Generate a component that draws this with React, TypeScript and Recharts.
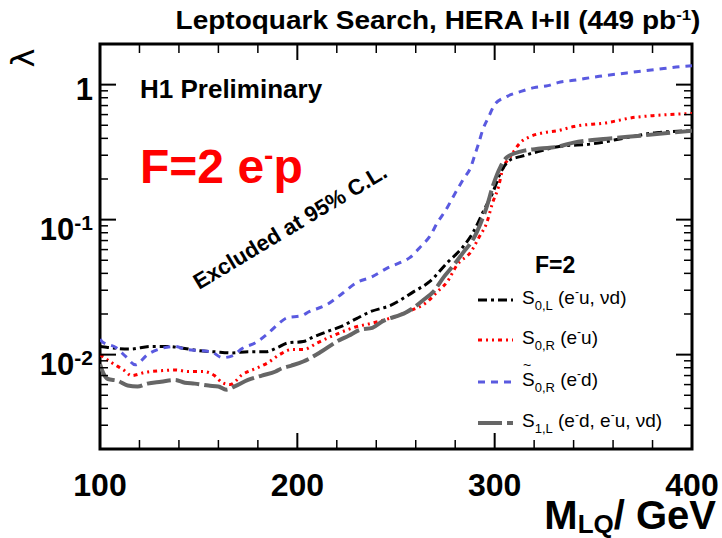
import React from 'react';
import { LineChart, Line, XAxis, YAxis, ReferenceArea } from 'recharts';

// S0,L (e-u, vd) — black dash-dot
const s0lMass = [100, 104, 115, 126, 134, 143, 150, 158, 167, 175, 184, 190, 195, 203, 208, 215, 222, 230, 237, 247, 259, 267, 276, 284, 289, 294, 299, 303, 308, 313, 322, 332, 350, 367, 382, 400];
const s0lLambda = [0.0115, 0.0113, 0.011, 0.0115, 0.0115, 0.0111, 0.0107, 0.0105, 0.0103, 0.0105, 0.0105, 0.0113, 0.0122, 0.0125, 0.0135, 0.0148, 0.0161, 0.0185, 0.0208, 0.0231, 0.0293, 0.0347, 0.048, 0.063, 0.08, 0.113, 0.158, 0.223, 0.278, 0.293, 0.319, 0.347, 0.365, 0.405, 0.441, 0.455];

// S0,R (e-u) — red dotted
const s0rMass = [100, 106, 112, 116, 123, 131, 138, 145, 152, 158, 162, 166, 172, 179, 185, 191, 197, 203, 210, 217, 230, 237, 256, 266, 271, 276, 281, 288, 292, 296, 299, 302, 304, 308, 313, 318, 325, 332, 340, 357, 370, 380, 400];
const s0rLambda = [0.01, 0.0087, 0.0077, 0.007, 0.0074, 0.0076, 0.0077, 0.0075, 0.0075, 0.007, 0.0062, 0.006, 0.0071, 0.0079, 0.0087, 0.01, 0.0109, 0.0109, 0.0122, 0.0136, 0.0161, 0.017, 0.0208, 0.0247, 0.0293, 0.0347, 0.0464, 0.0579, 0.0736, 0.095, 0.134, 0.176, 0.235, 0.293, 0.372, 0.412, 0.441, 0.456, 0.489, 0.523, 0.57, 0.589, 0.612];

// S~0,R (e-d) — blue dashed
const st0rMass = [100, 101, 108, 113, 118, 124, 131, 138, 144, 152, 157, 162, 167, 172, 179, 185, 190, 195, 202, 206, 215, 222, 230, 238, 246, 252, 257, 262, 267, 271, 276, 279, 284, 288, 290, 292, 294, 297, 300, 306, 313, 320, 327, 332, 340, 353, 367, 381, 396, 400];
const st0rLambda = [0.013, 0.0125, 0.0113, 0.0097, 0.0084, 0.01, 0.0111, 0.0115, 0.0109, 0.0107, 0.0104, 0.0095, 0.0098, 0.0111, 0.0123, 0.0143, 0.0167, 0.0188, 0.0194, 0.0208, 0.0235, 0.0278, 0.0341, 0.0378, 0.0441, 0.048, 0.0523, 0.062, 0.0748, 0.095, 0.123, 0.148, 0.198, 0.247, 0.303, 0.372, 0.464, 0.579, 0.711, 0.815, 0.887, 0.95, 0.983, 1.035, 1.076, 1.152, 1.221, 1.291, 1.367, 1.38];

// S1,L (e-d, e-u, vd) — grey long dash
const s1lMass = [100, 101, 104, 109, 114, 119, 124, 131, 138, 143, 148, 155, 160, 164, 168, 175, 182, 189, 192, 197, 203, 212, 220, 226, 232, 238, 243, 255, 259, 264, 269, 274, 279, 284, 289, 293, 296, 299, 303, 306, 313, 323, 332, 340, 357, 374, 390, 400];
const s1lLambda = [0.0085, 0.0077, 0.0066, 0.0064, 0.0059, 0.0058, 0.0061, 0.0063, 0.0065, 0.0062, 0.0061, 0.0059, 0.0058, 0.0055, 0.0058, 0.0065, 0.007, 0.0075, 0.0079, 0.0083, 0.0089, 0.0105, 0.0125, 0.0138, 0.0153, 0.0158, 0.0176, 0.0205, 0.0223, 0.0255, 0.0293, 0.0372, 0.0456, 0.057, 0.0711, 0.095, 0.125, 0.176, 0.247, 0.288, 0.319, 0.336, 0.347, 0.372, 0.398, 0.419, 0.441, 0.456];

const xTicks = [100, 120, 140, 160, 180, 200, 220, 240, 260, 280, 300, 320, 340, 360, 380, 400];
const xMajor = [100, 200, 300, 400];
const yTicks = [0.002, 0.003, 0.004, 0.005, 0.006, 0.007, 0.008, 0.009, 0.01, 0.02, 0.03, 0.04, 0.05, 0.06, 0.07, 0.08, 0.09, 0.1, 0.2, 0.3, 0.4, 0.5, 0.6, 0.7, 0.8, 0.9, 1, 2];
const yMajor = [0.01, 0.1, 1];
const yLabels: Record<string, [string, string]> = { '0.01': ['10', '-2'], '0.1': ['10', '-1'], '1': ['1', ''] };

const zip = (mass: number[], lambda: number[]) => mass.map((m, i) => ({ m, v: lambda[i] }));

const PLOT = { left: 100, right: 692, top: 44, bottom: 449 };
const FONT = '"Liberation Sans", Arial, Helvetica, sans-serif';

const BLACK_DASH = '9 4 3 4';
const RED_DASH = '4 4 2 4 2 4';
const BLUE_DASH = '7 6';
const GREY_DASH = '24 5';

const YTick = ({ y, payload }: any) => {
  const v = payload.value;
  const major = yMajor.includes(v);
  const len = major ? 16 : 8;
  const lab = yLabels[String(v)];
  return (
    <g>
      <line x1={PLOT.left} x2={PLOT.left + len} y1={y} y2={y} stroke="#000" strokeWidth={major ? 2 : 1.5} />
      <line x1={PLOT.right} x2={PLOT.right - len} y1={y} y2={y} stroke="#000" strokeWidth={major ? 2 : 1.5} />
      {lab && (
        <text x={93} y={y + (lab[1] ? 20 : 15)} textAnchor="end" fontSize={31} fontWeight="bold" fontFamily={FONT} fill="#000">
          {lab[0]}
          {lab[1] && <tspan dy={-10} fontSize={21}>{lab[1]}</tspan>}
        </text>
      )}
    </g>
  );
};

const XTick = ({ x, payload }: any) => {
  const v = payload.value;
  const major = xMajor.includes(v);
  const len = major ? 16 : 9;
  return (
    <g>
      <line x1={x} x2={x} y1={PLOT.bottom} y2={PLOT.bottom - len} stroke="#000" strokeWidth={major ? 2 : 1.5} />
      <line x1={x} x2={x} y1={PLOT.top} y2={PLOT.top + len} stroke="#000" strokeWidth={major ? 2 : 1.5} />
      {major && (
        <text x={x} y={496} textAnchor="middle" fontSize={32} fontWeight="bold" fontFamily={FONT} fill="#000">
          {v}
        </text>
      )}
    </g>
  );
};

const legendRows = [
  { y: 300, stroke: '#000', dash: BLACK_DASH, width: 3, sub: '0,L', text: ['(e', 'u, νd)'], tilde: false },
  { y: 340, stroke: '#ff0000', dash: RED_DASH, width: 3, sub: '0,R', text: ['(e', 'u)'], tilde: false },
  { y: 382, stroke: '#5a5ae0', dash: BLUE_DASH, width: 3, sub: '0,R', text: ['(e', 'd)'], tilde: true },
  { y: 423, stroke: '#666666', dash: GREY_DASH, width: 4, sub: '1,L', text: ['(e', 'd, e', 'u, νd)'], tilde: false },
];

const Overlay = () => (
  <svg width={722} height={538} style={{ position: 'absolute', left: 0, top: 0, pointerEvents: 'none' }}>
    <text transform="translate(438,29) scale(1.12,1)" textAnchor="middle" fontSize={25} fontWeight="bold" fontFamily={FONT}>
      Leptoquark Search, HERA I+II (449 pb<tspan dy={-9} fontSize={15}>-1</tspan>
      <tspan dy={9}>)</tspan>
    </text>
    <text transform="translate(34,58) rotate(-90)" textAnchor="middle" fontSize={32} fontFamily='"DejaVu Sans", sans-serif'>
      λ
    </text>
    <text x={140} y={98} fontSize={26} fontWeight="bold" fontFamily={FONT}>H1 Preliminary</text>
    <text x={140} y={183} fontSize={48} fontWeight="bold" fontFamily={FONT} fill="#ff0000">
      F=2 e<tspan dy={-18} fontSize={28}>-</tspan>
      <tspan dy={18}>p</tspan>
    </text>
    <text transform="translate(199,290) rotate(-31)" fontSize={22} fontWeight="bold" fontFamily={FONT}>
      Excluded at 95% C.L.
    </text>
    <text x={535} y={273} fontSize={23} fontWeight="bold" fontFamily={FONT}>F=2</text>
    {legendRows.map((r) => (
      <g key={r.y}>
        <line x1={478} x2={513} y1={r.y} y2={r.y} stroke={r.stroke} strokeWidth={r.width} strokeDasharray={r.dash} />
        {r.tilde && (
          <text x={523} y={r.y - 12} fontSize={14} fontFamily={FONT}>~</text>
        )}
        <text x={522} y={r.y + 4} fontSize={19} fontFamily={FONT} xmlSpace="preserve">
          S<tspan dy={6} fontSize={13}>{r.sub}</tspan>
          <tspan dy={-6}>{' ' + r.text[0]}</tspan>
          {r.text.slice(1).map((t, i) => (
            <React.Fragment key={i}>
              <tspan dy={-8} fontSize={12}>-</tspan>
              <tspan dy={8}>{t}</tspan>
            </React.Fragment>
          ))}
        </text>
      </g>
    ))}
    <text x={716} y={529} textAnchor="end" fontSize={40} fontWeight="bold" fontFamily={FONT}>
      M<tspan dy={4} fontSize={26}>LQ</tspan>
      <tspan dy={-4}>/ GeV</tspan>
    </text>
  </svg>
);

export default function App() {
  return (
    <div style={{ position: 'absolute', left: 0, top: 0, width: 722, height: 538, background: '#fff' }}>
      <LineChart width={722} height={538} margin={{ top: 44, right: 30, bottom: 49, left: 40 }}>
        <XAxis
          dataKey="m"
          type="number"
          domain={[100, 400]}
          ticks={xTicks}
          interval={0}
          tick={<XTick />}
          tickLine={false}
          axisLine={false}
          height={40}
          allowDataOverflow
        />
        <YAxis
          type="number"
          scale="log"
          domain={[0.002, 2]}
          ticks={yTicks}
          interval={0}
          tick={<YTick />}
          tickLine={false}
          axisLine={false}
          width={60}
          allowDataOverflow
        />
        <Line data={zip(s0rMass, s0rLambda)} dataKey="v" type="monotone" stroke="#ff0000" strokeWidth={3} strokeDasharray={RED_DASH} dot={false} isAnimationActive={false} />
        <Line data={zip(s0lMass, s0lLambda)} dataKey="v" type="monotone" stroke="#000" strokeWidth={3} strokeDasharray={BLACK_DASH} dot={false} isAnimationActive={false} />
        <Line data={zip(s1lMass, s1lLambda)} dataKey="v" type="monotone" stroke="#666666" strokeWidth={4} strokeDasharray={GREY_DASH} dot={false} isAnimationActive={false} />
        <Line data={zip(st0rMass, st0rLambda)} dataKey="v" type="monotone" stroke="#5a5ae0" strokeWidth={3} strokeDasharray={BLUE_DASH} dot={false} isAnimationActive={false} />
        <ReferenceArea x1={100} x2={400} y1={0.002} y2={2} fill="none" stroke="#000" strokeWidth={3} ifOverflow="visible" />
      </LineChart>
      <Overlay />
    </div>
  );
}
